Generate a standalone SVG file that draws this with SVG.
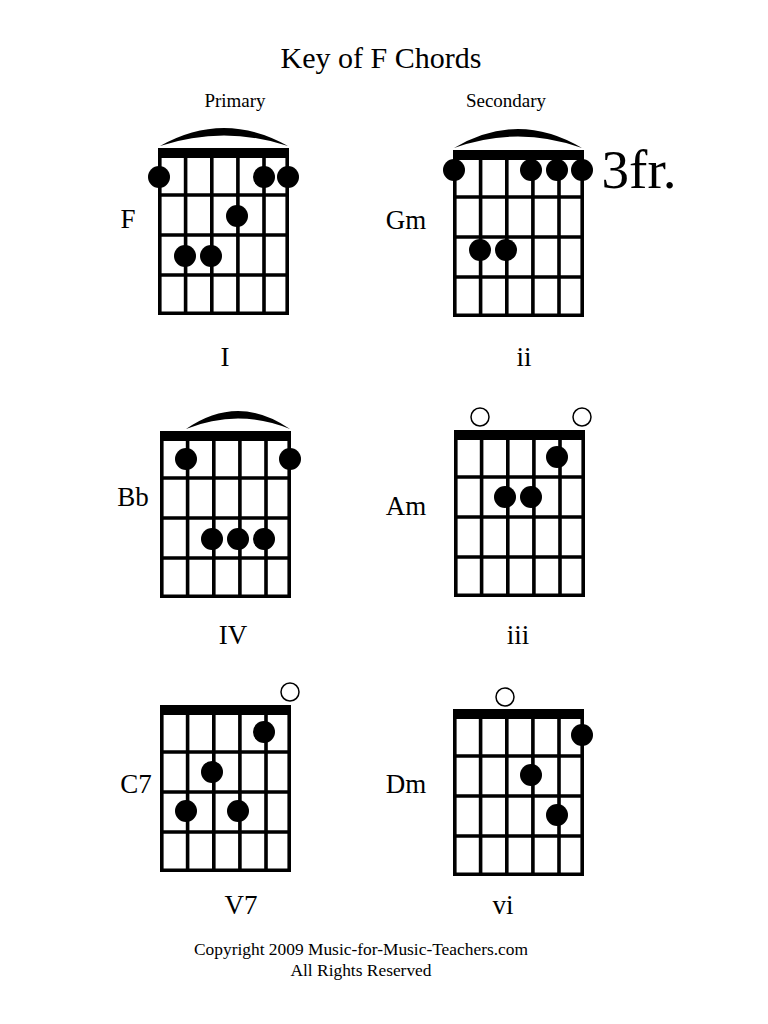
<svg xmlns="http://www.w3.org/2000/svg" width="768" height="1024" viewBox="0 0 768 1024">
<style>
text{font-family:"Liberation Serif",serif;fill:#000;text-anchor:middle}
.g{stroke:#000;stroke-width:3.6;fill:none}
.n{fill:#000}
.d{fill:#000}
.o{fill:#fff;stroke:#000;stroke-width:1.5}
</style>
<defs>
<g id="grid">
<rect x="0" y="0" width="131" height="10" class="n"/>
<path class="g" d="M1.8,0V167M27.6,0V167M53.8,0V167M79.9,0V167M106,0V167M129.2,0V167M0,47H131M0,87H131M0,127H131M0,165.2H131"/>
</g>
</defs>
<rect width="768" height="1024" fill="#fff"/>
<text x="381" y="68" font-size="30">Key of F Chords</text>
<text x="235" y="107" font-size="19">Primary</text>
<text x="506" y="107" font-size="19">Secondary</text>
<g id="F">
<use href="#grid" x="158" y="148"/>
<path class="n" d="M160,146 Q224,110 288,146 Q224,125 160,146Z"/>
<circle class="d" cx="159" cy="177" r="11"/><circle class="d" cx="264" cy="177" r="11"/><circle class="d" cx="288" cy="177" r="11"/>
<circle class="d" cx="237" cy="216" r="11"/><circle class="d" cx="185" cy="256" r="11"/><circle class="d" cx="211" cy="256" r="11"/>
<text x="128" y="228" font-size="27">F</text><text x="225" y="366" font-size="27">I</text>
</g>
<g id="Gm">
<use href="#grid" x="453" y="150"/>
<path class="n" d="M454,148 Q518,110 582,148 Q518,125 454,148Z"/>
<circle class="d" cx="454" cy="170" r="11"/><circle class="d" cx="531" cy="170" r="11"/><circle class="d" cx="557" cy="170" r="11"/><circle class="d" cx="582" cy="170" r="11"/>
<circle class="d" cx="480" cy="250" r="11"/><circle class="d" cx="506" cy="250" r="11"/>
<text x="406" y="229" font-size="27">Gm</text><text x="524" y="366" font-size="27">ii</text>
<text x="639" y="188" font-size="55">3fr.</text>
</g>
<g id="Bb">
<use href="#grid" x="160" y="431"/>
<path class="n" d="M186,429 Q238,393 290,429 Q238,408 186,429Z"/>
<circle class="d" cx="186" cy="459" r="11"/><circle class="d" cx="290" cy="459" r="11"/>
<circle class="d" cx="212" cy="539" r="11"/><circle class="d" cx="238" cy="539" r="11"/><circle class="d" cx="264" cy="539" r="11"/>
<text x="133" y="506" font-size="27">Bb</text><text x="233" y="644" font-size="27">IV</text>
</g>
<g id="Am">
<use href="#grid" x="454" y="430"/>
<circle class="o" cx="480" cy="417" r="9"/><circle class="o" cx="582" cy="417" r="9"/>
<circle class="d" cx="557" cy="457" r="11"/><circle class="d" cx="505" cy="497" r="11"/><circle class="d" cx="531" cy="497" r="11"/>
<text x="406" y="515" font-size="27">Am</text><text x="518" y="644" font-size="27">iii</text>
</g>
<g id="C7">
<use href="#grid" x="160" y="705"/>
<circle class="o" cx="290" cy="692" r="9"/>
<circle class="d" cx="264" cy="732" r="11"/><circle class="d" cx="212" cy="772" r="11"/><circle class="d" cx="186" cy="811" r="11"/><circle class="d" cx="238" cy="811" r="11"/>
<text x="136" y="793" font-size="27">C7</text><text x="241" y="914" font-size="27">V7</text>
</g>
<g id="Dm">
<use href="#grid" x="453" y="709"/>
<circle class="o" cx="505" cy="697" r="9"/>
<circle class="d" cx="582" cy="735" r="11"/><circle class="d" cx="531" cy="775" r="11"/><circle class="d" cx="557" cy="815" r="11"/>
<text x="406" y="793" font-size="27">Dm</text><text x="503" y="914" font-size="27">vi</text>
</g>
<g id="connectors"/>
<text x="361" y="955" font-size="17.4">Copyright 2009 Music-for-Music-Teachers.com</text>
<text x="361" y="976" font-size="17.4">All Rights Reserved</text>
</svg>
